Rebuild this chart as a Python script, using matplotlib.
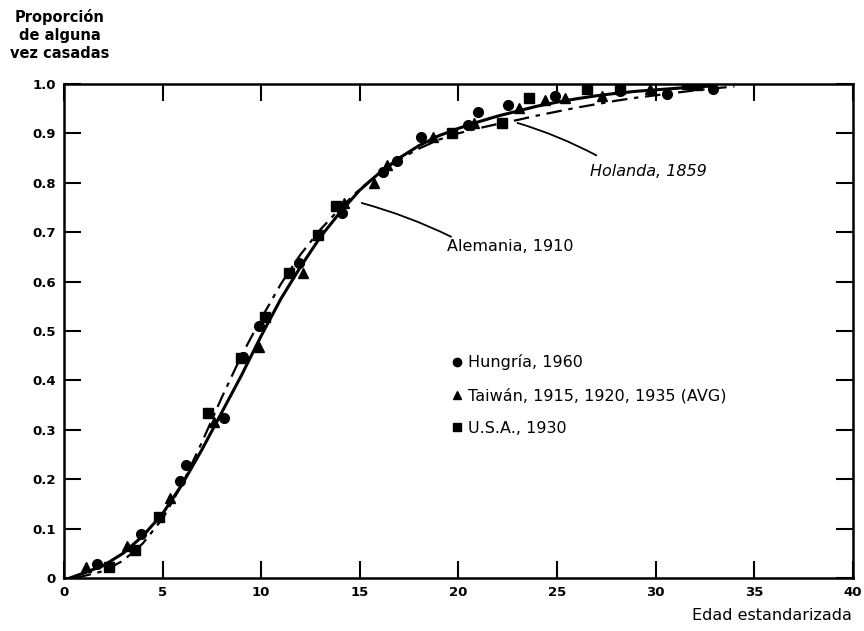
import matplotlib
matplotlib.use("Agg")
import matplotlib.pyplot as plt
from matplotlib.lines import Line2D

# Observed proportions ever married by standardized age
hun_x = [1.7, 3.9, 5.9, 6.2, 8.1, 9.1, 9.9, 11.9, 14.1, 16.2, 16.9, 18.1, 20.5, 21.0, 22.5, 24.9, 28.2, 30.6, 32.9]
hun_y = [0.028, 0.089, 0.197, 0.229, 0.324, 0.447, 0.51, 0.638, 0.739, 0.822, 0.844, 0.893, 0.917, 0.943, 0.957, 0.976, 0.985, 0.98, 0.99]

twn_x = [1.1, 3.2, 5.4, 7.6, 9.9, 12.1, 14.2, 15.7, 16.4, 18.7, 20.8, 23.1, 24.4, 25.4, 27.3, 29.7]
twn_y = [0.022, 0.065, 0.162, 0.315, 0.468, 0.617, 0.759, 0.8, 0.836, 0.893, 0.92, 0.951, 0.968, 0.972, 0.976, 0.99]

usa_x = [2.3, 3.6, 4.8, 7.3, 9.0, 10.2, 11.4, 12.9, 13.8, 19.7, 22.2, 23.6, 26.5, 28.2, 31.6, 32.1]
usa_y = [0.022, 0.057, 0.124, 0.334, 0.445, 0.528, 0.617, 0.694, 0.753, 0.9, 0.921, 0.972, 0.99, 0.99, 1.0, 0.998]

# Reference schedules
ale_x = [0.3, 1, 2, 3, 4, 5, 6, 7, 8, 9, 10, 11, 12, 13, 14, 15, 16, 17, 18, 19, 20,
         21, 22, 23, 24, 25, 26, 27, 28, 29, 30, 31, 32, 33]
ale_y = [0.0, 0.01, 0.025, 0.05, 0.085, 0.13, 0.19, 0.26, 0.335, 0.41, 0.49, 0.565, 0.63,
         0.69, 0.74, 0.785, 0.82, 0.85, 0.875, 0.895, 0.91, 0.923, 0.935, 0.945, 0.955,
         0.963, 0.97, 0.976, 0.981, 0.985, 0.988, 0.991, 0.994, 0.996]

hol_x = [0.6, 1, 2, 3, 4, 5, 6, 7, 8, 9, 10, 11, 12, 13, 14, 15, 16, 17, 18, 19, 20,
         21, 22, 23, 24, 25, 26, 27, 28, 29, 30, 31, 32, 33, 34]
hol_y = [0.0, 0.004, 0.014, 0.035, 0.07, 0.12, 0.19, 0.275, 0.365, 0.45, 0.525, 0.595,
         0.655, 0.705, 0.748, 0.787, 0.82, 0.847, 0.869, 0.887, 0.9, 0.91, 0.919, 0.927,
         0.936, 0.944, 0.952, 0.959, 0.966, 0.972, 0.977, 0.982, 0.987, 0.991, 0.995]

x_ticks = [0, 5, 10, 15, 20, 25, 30, 35, 40]
y_ticks = [0, 0.1, 0.2, 0.3, 0.4, 0.5, 0.6, 0.7, 0.8, 0.9, 1.0]
y_labels = ["0", "0.1", "0.2", "0.3", "0.4", "0.5", "0.6", "0.7", "0.8", "0.9", "1.0"]

plt.rcParams['font.family'] = ['DejaVu Sans']

fig = plt.figure(figsize=(8.64, 6.31), dpi=100)
ax = fig.add_axes([0.074, 0.084, 0.913, 0.783])

ax.plot(ale_x, ale_y, color='black', lw=2.2, solid_capstyle='round', zorder=2)
ax.plot(hol_x, hol_y, color='black', lw=1.6, dashes=(7, 3, 2, 3), zorder=2)

mk = dict(color='black', linestyle='none', zorder=3)
ax.plot(hun_x, hun_y, marker='o', ms=7, **mk)
ax.plot(twn_x, twn_y, marker='^', ms=7, **mk)
ax.plot(usa_x, usa_y, marker='s', ms=6.5, **mk)

ax.set_xlim(0, 40)
ax.set_ylim(0, 1.0)
ax.set_xticks(x_ticks)
ax.set_xticklabels([str(t) for t in x_ticks])
ax.set_yticks(y_ticks)
ax.set_yticklabels(y_labels)
ax.tick_params(direction='in', length=12, width=1.5, top=True, right=True,
               labelsize=9.5, pad=6)
for lab in ax.get_xticklabels() + ax.get_yticklabels():
    lab.set_fontweight('bold')
for s in ax.spines.values():
    s.set_linewidth(1.8)

# Curve labels
ax.annotate("Alemania, 1910", xy=(15.1, 0.759), xytext=(19.4, 0.67),
            fontsize=11.5, va='center', ha='left',
            arrowprops=dict(arrowstyle='-', lw=1.3, color='black',
                            shrinkA=0, shrinkB=0, relpos=(0.08, 1.0),
                            connectionstyle='arc3,rad=0.05'))
ax.annotate("Holanda, 1859", xy=(23.0, 0.921), xytext=(26.7, 0.822),
            fontsize=11.5, style='italic', va='center', ha='left',
            arrowprops=dict(arrowstyle='-', lw=1.3, color='black',
                            shrinkA=0, shrinkB=0, relpos=(0.05, 1.6),
                            connectionstyle='arc3,rad=0.05'))

handles = [
    Line2D([], [], marker='o', color='black', ls='none', ms=6),
    Line2D([], [], marker='^', color='black', ls='none', ms=6),
    Line2D([], [], marker='s', color='black', ls='none', ms=5.5),
]
labels = ["Hungría, 1960", "Taiwán, 1915, 1920, 1935 (AVG)", "U.S.A., 1930"]
ax.legend(handles, labels, loc='upper left', bbox_to_anchor=(0.492, 0.453),
          frameon=False, fontsize=11.5, handlelength=0.6, handletextpad=0.4,
          labelspacing=1.1, borderpad=0, borderaxespad=0)

fig.text(0.069, 0.985, "Proporción\nde alguna\nvez casadas", ha='center', va='top',
         fontsize=10.5, fontweight='bold', linespacing=1.25)
fig.text(0.986, 0.012, "Edad estandarizada", ha='right', va='bottom', fontsize=11.5)

fig.savefig("out.png", dpi=100)
